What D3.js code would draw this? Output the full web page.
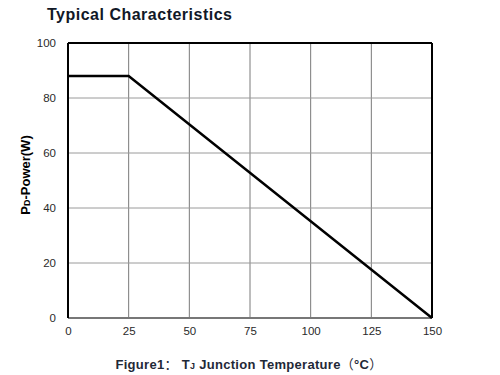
<!DOCTYPE html>
<html><head><meta charset="utf-8">
<script src="https://cdn.jsdelivr.net/npm/d3@7"></script>
<style>body{margin:0;background:#fff;}svg{display:block;font-family:"Liberation Sans",Arial,sans-serif;}</style>
</head><body>
<svg id="c" width="500" height="375"></svg>
<script>
const tempC = [0, 25, 150];
const powerW = [88, 88, 0];
const xTicks = [0, 25, 50, 75, 100, 125, 150];
const yTicks = [0, 20, 40, 60, 80, 100];

const svg = d3.select("#c");
const m = {l: 68, r: 432, t: 43, b: 318};
const x = d3.scaleLinear().domain([0, 150]).range([m.l, m.r]);
const y = d3.scaleLinear().domain([0, 100]).range([m.b, m.t]);
const cjk = '"Noto Sans CJK SC","Liberation Sans",sans-serif';

// title
svg.append("text").attr("x", 47).attr("y", 20).attr("font-size", 16).attr("font-weight", "bold")
  .attr("letter-spacing", 0.5).attr("fill", "#111827").text("Typical Characteristics");

// grid
svg.append("g").selectAll("line").data(xTicks.slice(1, -1)).join("line")
  .attr("x1", d => x(d)).attr("x2", d => x(d)).attr("y1", m.t).attr("y2", m.b)
  .attr("stroke", "#7a7a7a").attr("stroke-width", 1);
svg.append("g").selectAll("line").data(yTicks.slice(1, -1)).join("line")
  .attr("x1", m.l).attr("x2", m.r).attr("y1", d => y(d)).attr("y2", d => y(d))
  .attr("stroke", "#9a9a9a").attr("stroke-width", 1);

// frame
svg.append("line").attr("x1", m.l).attr("x2", m.r).attr("y1", m.b).attr("y2", m.b).attr("stroke", "#777").attr("stroke-width", 2);
svg.append("line").attr("x1", m.l).attr("x2", m.r).attr("y1", m.t).attr("y2", m.t).attr("stroke", "#000").attr("stroke-width", 2);
svg.append("line").attr("x1", m.l).attr("x2", m.l).attr("y1", m.t).attr("y2", m.b).attr("stroke", "#000").attr("stroke-width", 2);
svg.append("line").attr("x1", m.r).attr("x2", m.r).attr("y1", m.t).attr("y2", m.b).attr("stroke", "#000").attr("stroke-width", 2);

// axes labels via d3 axes
const xa = svg.append("g").attr("transform", `translate(0,${m.b})`)
  .call(d3.axisBottom(x).tickValues(xTicks).tickSize(0).tickPadding(9));
const ya = svg.append("g").attr("transform", `translate(${m.l},0)`)
  .call(d3.axisLeft(y).tickValues(yTicks).tickSize(0).tickPadding(12));
[xa, ya].forEach(a => {
  a.select(".domain").remove();
  a.selectAll("text").attr("font-size", 11.5).attr("fill", "#2a2a2a").attr("font-family", '"Liberation Sans",Arial,sans-serif');
});

// data line
const line = d3.line().x((d, i) => x(tempC[i])).y((d, i) => y(powerW[i]));
svg.append("path").datum(powerW).attr("d", line).attr("fill", "none")
  .attr("stroke", "#000").attr("stroke-width", 2.5);

// y label
const yl = svg.append("text").attr("transform", "translate(30,175) rotate(-90)")
  .attr("text-anchor", "middle").attr("font-size", 13).attr("font-weight", "bold").attr("fill", "#000");
yl.append("tspan").text("P");
yl.append("tspan").attr("font-size", 9).text("D");
yl.append("tspan").text("-Power(W)");

// x label
const xl = svg.append("text").attr("x", 249).attr("y", 369).attr("text-anchor", "middle")
  .attr("font-size", 13).attr("font-weight", "bold").attr("letter-spacing", 0.3).attr("fill", "#1f2937");
xl.append("tspan").text("Figure1");
xl.append("tspan").attr("font-family", cjk).attr("font-weight", "normal").text("：");
xl.append("tspan").text(" T");
xl.append("tspan").attr("font-size", 9).text("J");
xl.append("tspan").text(" Junction Temperature");
xl.append("tspan").attr("font-family", cjk).attr("font-weight", "normal").text("（");
xl.append("tspan").text("°C");
xl.append("tspan").attr("font-family", cjk).attr("font-weight", "normal").text("）");
</script>
</body></html>
